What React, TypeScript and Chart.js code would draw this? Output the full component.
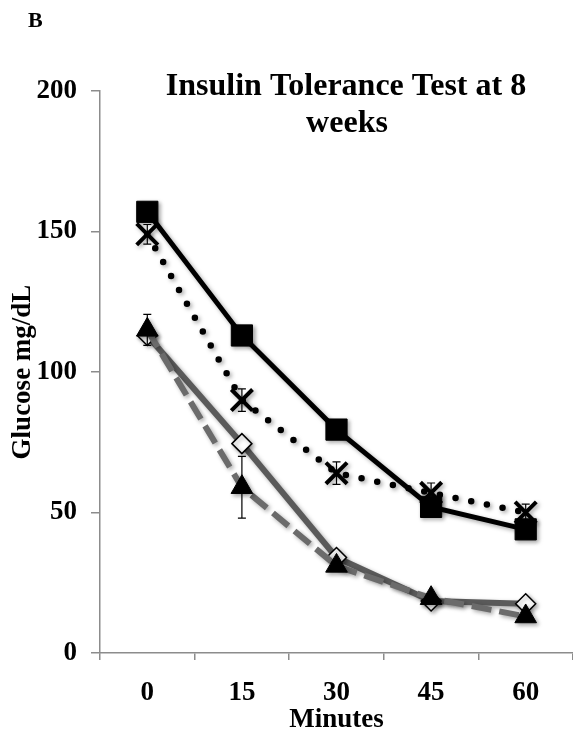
import React, { useEffect, useRef } from "react";
import { Chart, registerables } from "chart.js";

Chart.register(...registerables);

const minutes = ["0", "15", "30", "45", "60"];
const squareValues = [157, 113, 79.5, 52, 44];
const crossValues = [149, 90, 64, 57, 50];
const crossErrors = [3.5, 4, 4, 3.5, 3];
const diamondValues = [113, 74.5, 34, 18.5, 17.5];
const triangleValues = [115, 59, 31, 19.5, 13];
const triangleErrors = [5.5, 11, 2, 1.5, 1.5];
const yTicks = [0, 50, 100, 150, 200];
const titleLines = ["Insulin Tolerance Test at 8", "weeks"];
const panelLabel = "B";

const SERIF = "'Liberation Serif', 'Times New Roman', serif";

const errorBarPlugin = {
  id: "errorBars",
  beforeDatasetsDraw(chart: any) {
    const ctx = chart.ctx;
    ctx.save();
    ctx.shadowColor = "rgba(0,0,0,0.35)";
    ctx.shadowBlur = 4;
    ctx.shadowOffsetX = 2;
    ctx.shadowOffsetY = 2;
  },
  afterDatasetsDraw(chart: any) {
    const ctx = chart.ctx;
    ctx.restore();
    const y = chart.scales.y;
    chart.data.datasets.forEach((ds: any, i: number) => {
      if (!ds.errors) return;
      const meta = chart.getDatasetMeta(i);
      meta.data.forEach((pt: any, j: number) => {
        const v = ds.data[j];
        const e = ds.errors[j];
        if (!e) return;
        const yTop = y.getPixelForValue(v + e);
        const yBot = y.getPixelForValue(v - e);
        ctx.save();
        ctx.strokeStyle = "#000";
        ctx.lineWidth = 1.2;
        ctx.beginPath();
        ctx.moveTo(pt.x, yTop);
        ctx.lineTo(pt.x, yBot);
        ctx.moveTo(pt.x - 4, yTop);
        ctx.lineTo(pt.x + 4, yTop);
        ctx.moveTo(pt.x - 4, yBot);
        ctx.lineTo(pt.x + 4, yBot);
        ctx.stroke();
        ctx.restore();
      });
    });
  },
  afterDraw(chart: any) {
    const ctx = chart.ctx;
    ctx.save();
    ctx.fillStyle = "#000";
    ctx.textAlign = "center";
    ctx.textBaseline = "alphabetic";
    ctx.font = `bold 32px ${SERIF}`;
    ctx.fillText(titleLines[0], 346, 95);
    ctx.fillText(titleLines[1], 347, 132);
    ctx.font = `bold 22px ${SERIF}`;
    ctx.textAlign = "left";
    ctx.fillText(panelLabel, 28, 27);
    ctx.restore();
  },
};

export default function App() {
  const ref = useRef<HTMLCanvasElement>(null);
  useEffect(() => {
    document.body.style.margin = "0";
    const chart = new Chart(ref.current!, {
      type: "line",
      data: {
        labels: minutes,
        datasets: [
          {
            data: squareValues,
            borderColor: "#000",
            backgroundColor: "#000",
            borderWidth: 5,
            pointStyle: "rect",
            pointRadius: 15,
            pointBackgroundColor: "#000",
            pointBorderColor: "#000",
            pointBorderWidth: 1,
            clip: false,
          },
          {
            data: crossValues,
            errors: crossErrors,
            borderColor: "#000",
            borderWidth: 6.5,
            borderDash: [0, 16],
            borderCapStyle: "round",
            pointStyle: "crossRot",
            pointRadius: 15,
            pointBorderColor: "#000",
            pointBorderWidth: 4,
            clip: false,
          },
          {
            data: triangleValues,
            errors: triangleErrors,
            borderColor: "#6b6b6b",
            borderWidth: 6,
            borderDash: [20, 8],
            pointStyle: "triangle",
            pointRadius: 12.5,
            pointBackgroundColor: "#000",
            pointBorderColor: "#000",
            pointBorderWidth: 1,
            clip: false,
          },
          {
            data: diamondValues,
            borderColor: "#5a5a5a",
            borderWidth: 6,
            pointStyle: "rectRot",
            pointRadius: 10,
            pointBackgroundColor: "#fff",
            pointBorderColor: "#000",
            pointBorderWidth: 1.5,
            clip: false,
          },
        ] as any,
      },
      options: {
        animation: false,
        responsive: false,
        maintainAspectRatio: false,
        layout: { autoPadding: false, padding: { top: 91, right: -3, left: 0, bottom: 0 } },
        plugins: {
          legend: { display: false },
          title: { display: false },
          tooltip: { enabled: false },
        },
        scales: {
          x: {
            type: "category",
            offset: true,
            afterFit: (s: any) => {
              s.height = 83;
              s.paddingLeft = 0;
              s.paddingRight = 0;
            },
            grid: {
              offset: true,
              drawOnChartArea: false,
              drawTicks: true,
              tickLength: 7,
              color: "#8c8c8c",
              lineWidth: 1.5,
            },
            border: { color: "#8c8c8c", width: 1.5 },
            ticks: {
              color: "#000",
              padding: 17,
              font: { family: SERIF, size: 27, weight: "bold" },
            },
            title: {
              display: true,
              text: "Minutes",
              color: "#000",
              font: { family: SERIF, size: 27, weight: "bold", lineHeight: 1.2 },
              padding: { top: 0, bottom: 0 },
            },
          },
          y: {
            min: 0,
            max: 200,
            afterFit: (s: any) => {
              s.width = 100;
              s.paddingTop = 0;
              s.paddingBottom = 0;
            },
            afterBuildTicks: (s: any) => {
              s.ticks = yTicks.map((v) => ({ value: v }));
            },
            grid: {
              drawOnChartArea: false,
              drawTicks: true,
              tickLength: 9,
              color: "#8c8c8c",
              lineWidth: 1.5,
            },
            border: { color: "#8c8c8c", width: 1.5 },
            ticks: {
              color: "#000",
              padding: 14,
              font: { family: SERIF, size: 27, weight: "bold" },
            },
            title: {
              display: true,
              text: "Glucose mg/dL",
              color: "#000",
              font: { family: SERIF, size: 27, weight: "bold", lineHeight: 1.2 },
              padding: { top: 7, bottom: 0 },
            },
          },
        },
      } as any,
      plugins: [errorBarPlugin],
    });
    return () => chart.destroy();
  }, []);
  return (
    <div style={{ width: 573, height: 736 }}>
      <canvas ref={ref} width={573} height={736} style={{ display: "block" }} />
    </div>
  );
}
